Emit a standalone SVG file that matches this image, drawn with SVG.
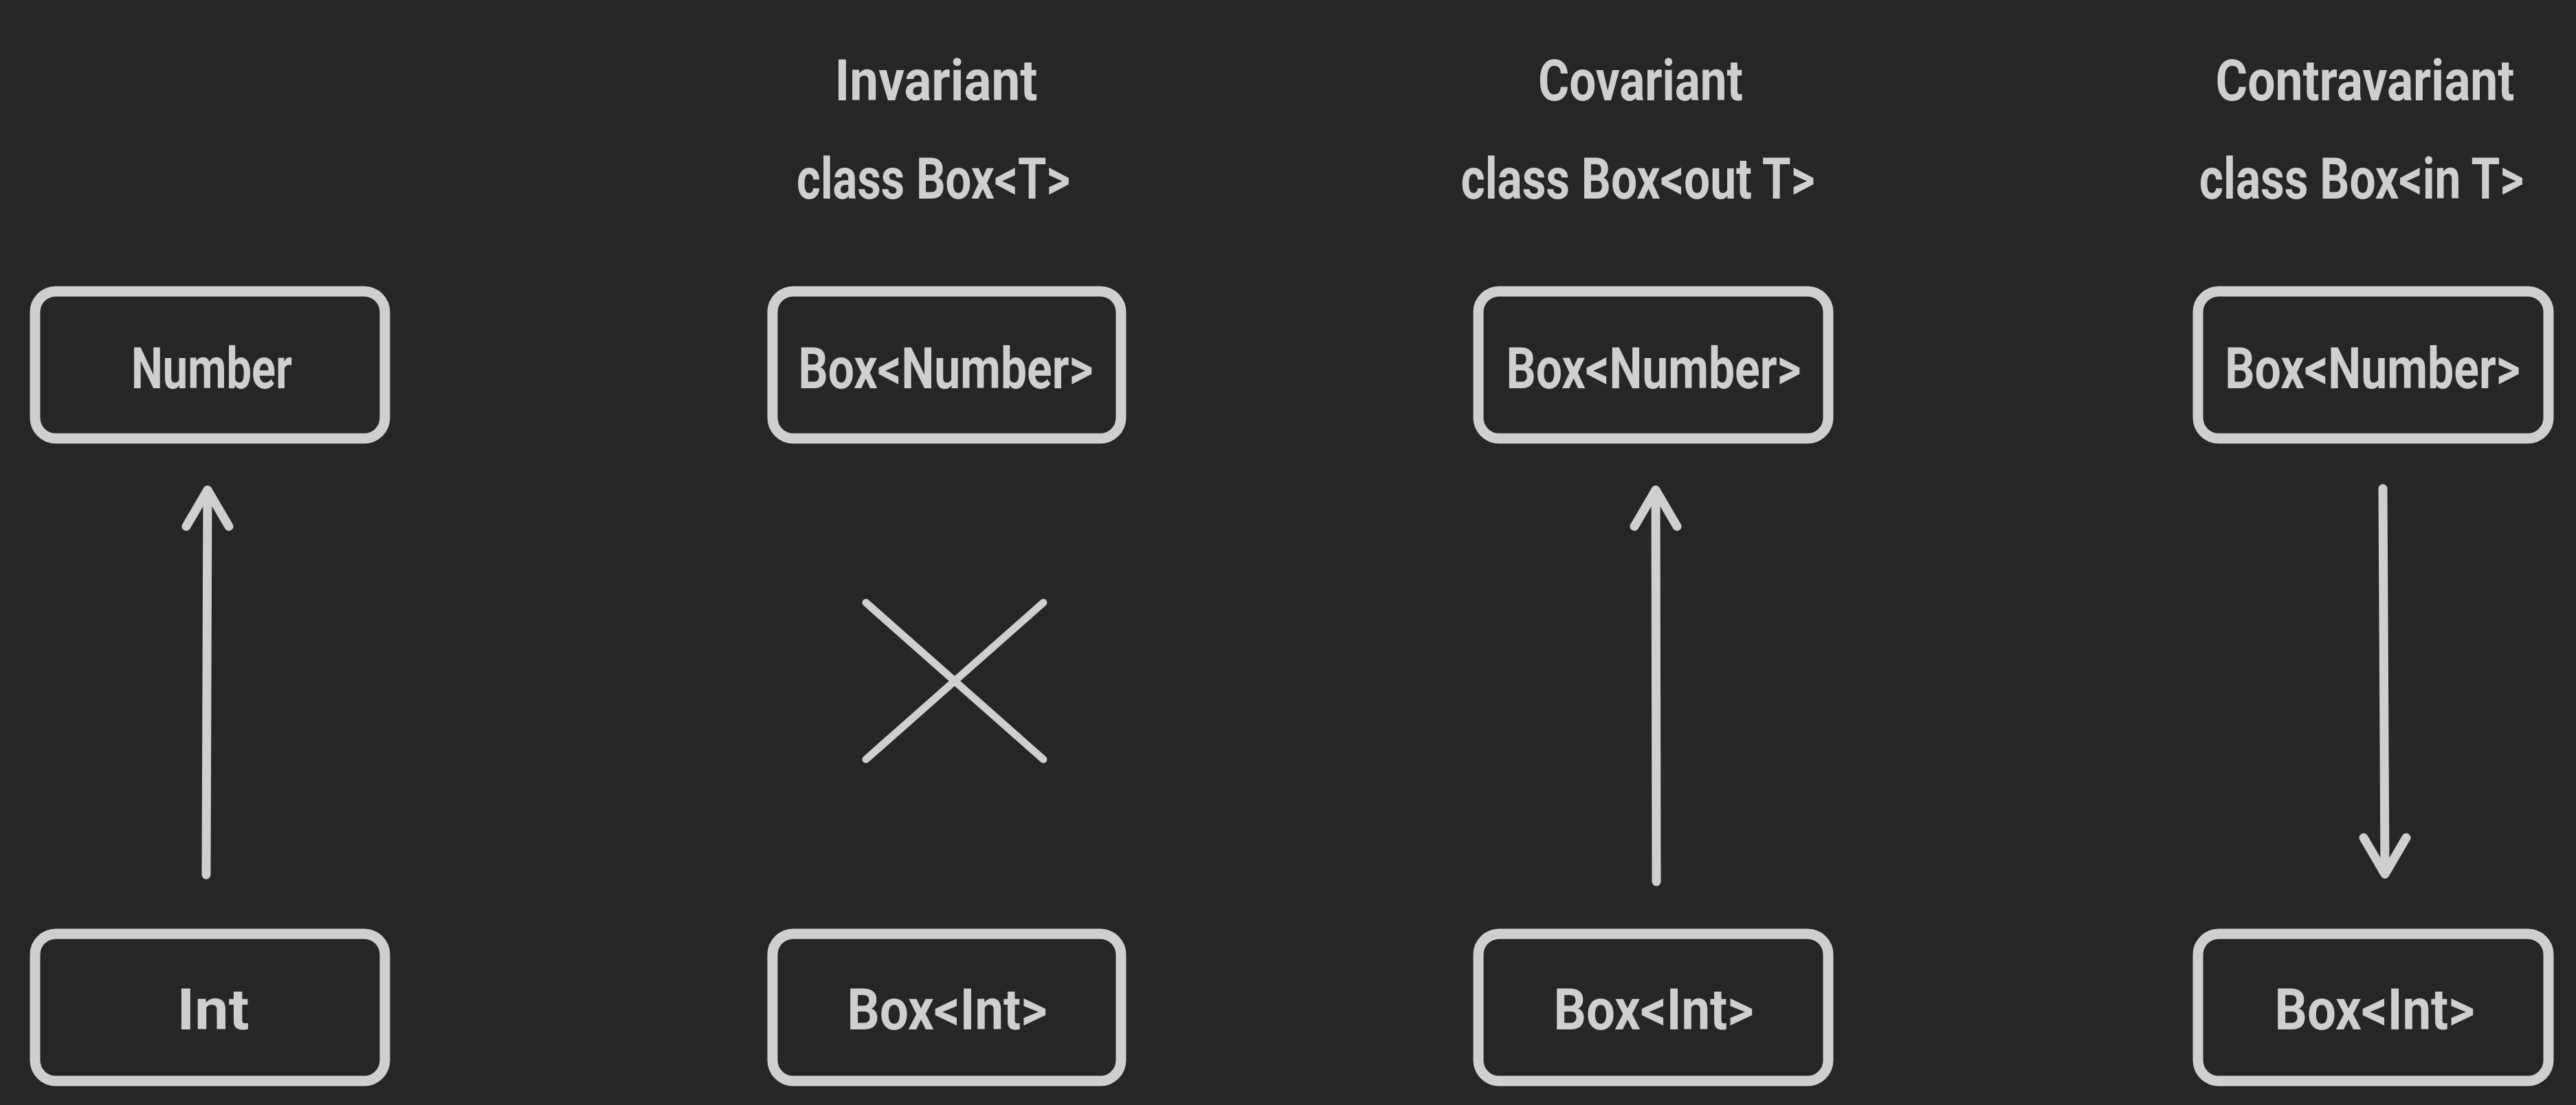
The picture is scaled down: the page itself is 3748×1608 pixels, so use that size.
<svg xmlns="http://www.w3.org/2000/svg" width="3748" height="1608" viewBox="0 0 3748 1608">
<style>
.bg{fill:#262626}
.box{fill:none;stroke:#cfcfcf;stroke-width:15;stroke-linejoin:round}
.lbl{font-family:Roboto,"Open Sans",sans-serif;font-weight:700;font-size:84px;fill:#cfcfcf;text-anchor:middle}
.ln{fill:none;stroke:#cfcfcf;stroke-width:13;stroke-linecap:round;stroke-linejoin:round}
.xl{fill:none;stroke:#cfcfcf;stroke-width:11;stroke-linecap:round}
</style>
<rect class="bg" x="0" y="0" width="3748" height="1608"/>
<g id="titles">
<text class="lbl" x="1362" y="146" textLength="295" lengthAdjust="spacingAndGlyphs">Invariant</text>
<text class="lbl" x="1358" y="289" textLength="398" lengthAdjust="spacingAndGlyphs">class Box&lt;T&gt;</text>
<text class="lbl" x="2387" y="146" textLength="298" lengthAdjust="spacingAndGlyphs">Covariant</text>
<text class="lbl" x="2383" y="289" textLength="515" lengthAdjust="spacingAndGlyphs">class Box&lt;out T&gt;</text>
<text class="lbl" x="3441" y="146" textLength="435" lengthAdjust="spacingAndGlyphs">Contravariant</text>
<text class="lbl" transform="translate(3436 289) scale(0.82 1)" x="0" y="0" textLength="576" lengthAdjust="spacingAndGlyphs">class Box&lt;in T&gt;</text>
</g>
<g id="node-number">
<rect class="box" x="51" y="424" width="509" height="214" rx="30"/>
<text class="lbl" x="308" y="565" textLength="234" lengthAdjust="spacingAndGlyphs">Number</text>
</g>
<g id="node-int">
<rect class="box" x="51" y="1359" width="509" height="214" rx="30"/>
<text class="lbl" x="310" y="1498" textLength="105" lengthAdjust="spacingAndGlyphs">Int</text>
</g>
<g id="node-inv-boxnumber">
<rect class="box" x="1124" y="424" width="507" height="214" rx="30"/>
<text class="lbl" x="1376" y="565" textLength="429" lengthAdjust="spacingAndGlyphs">Box&lt;Number&gt;</text>
</g>
<g id="node-inv-boxint">
<rect class="box" x="1124" y="1359" width="507" height="214" rx="30"/>
<text class="lbl" x="1378" y="1498" textLength="291" lengthAdjust="spacingAndGlyphs">Box&lt;Int&gt;</text>
</g>
<g id="node-co-boxnumber">
<rect class="box" x="2151" y="424" width="509" height="214" rx="30"/>
<text class="lbl" x="2406" y="565" textLength="429" lengthAdjust="spacingAndGlyphs">Box&lt;Number&gt;</text>
</g>
<g id="node-co-boxint">
<rect class="box" x="2151" y="1359" width="509" height="214" rx="30"/>
<text class="lbl" x="2406" y="1498" textLength="291" lengthAdjust="spacingAndGlyphs">Box&lt;Int&gt;</text>
</g>
<g id="node-contra-boxnumber">
<rect class="box" x="3198" y="424" width="510" height="214" rx="30"/>
<text class="lbl" transform="translate(3452 565) scale(0.82 1)" x="0" y="0" textLength="524" lengthAdjust="spacingAndGlyphs">Box&lt;Number&gt;</text>
</g>
<g id="node-contra-boxint">
<rect class="box" x="3198" y="1359" width="510" height="214" rx="30"/>
<text class="lbl" x="3455" y="1498" textLength="291" lengthAdjust="spacingAndGlyphs">Box&lt;Int&gt;</text>
</g>
<g id="connectors">
<path class="ln" d="M300 1273 L302 714"/>
<path class="ln" d="M271 766 L302 713 L333 766"/>
<path class="ln" d="M2410 1283 L2409 714"/>
<path class="ln" d="M2378 766 L2409 713 L2440 766"/>
<path class="ln" d="M3467 711 L3470 1271"/>
<path class="ln" d="M3439 1219 L3470 1272 L3501 1219"/>
<path class="xl" d="M1260 877 L1518 1105"/>
<path class="xl" d="M1518 877 L1260 1105"/>
</g>
</svg>
